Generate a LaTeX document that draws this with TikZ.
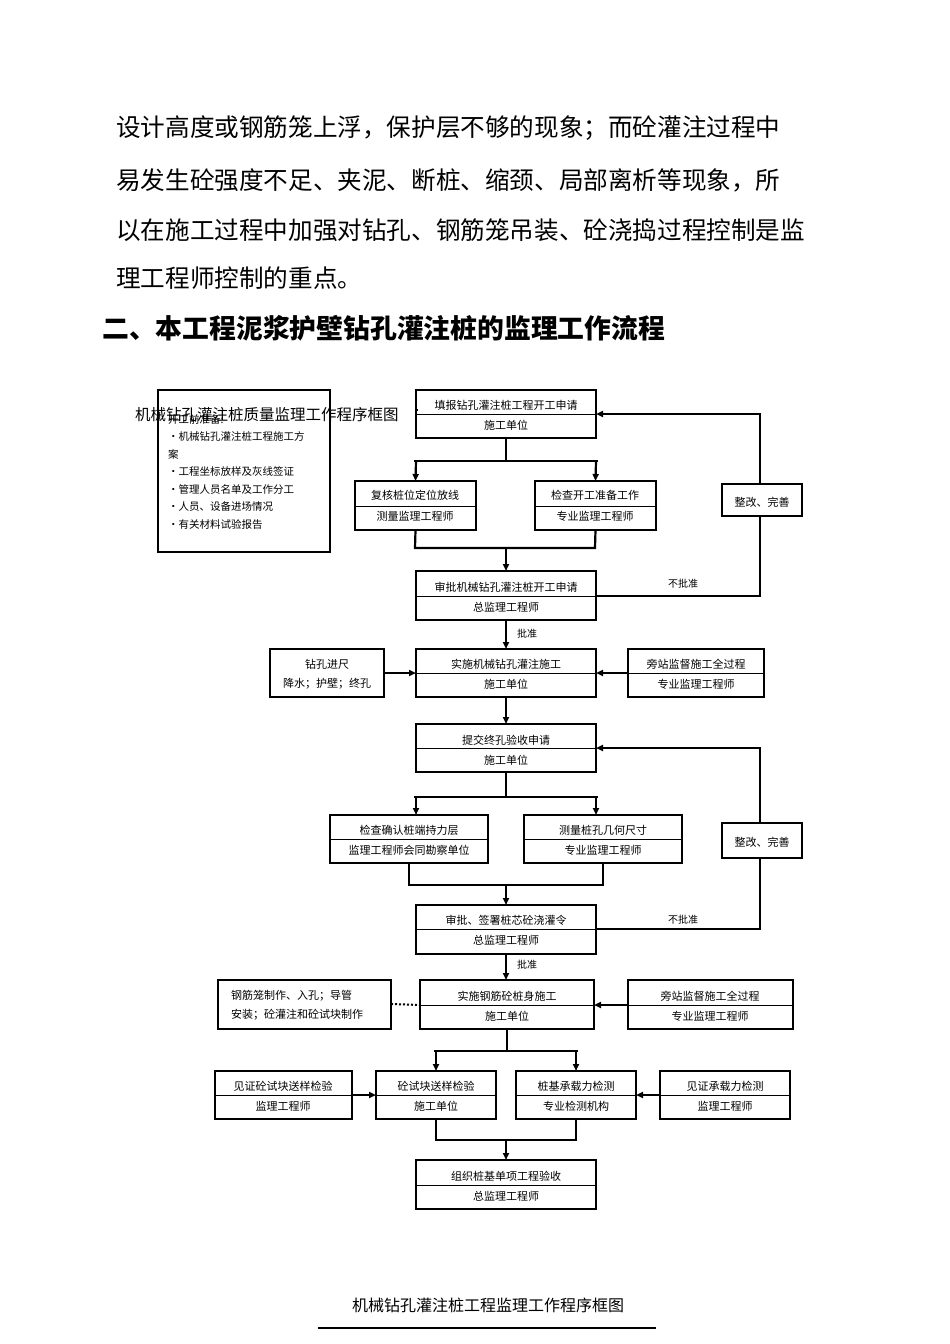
\documentclass[tikz,border=0pt]{standalone}
\usepackage{fontspec}
\setmainfont{Noto Sans CJK SC}
\usetikzlibrary{arrows.meta}
\begin{document}
\begin{tikzpicture}[x=1pt,y=-1pt,
  bx/.style={draw,line width=1.2pt},
  ln/.style={line width=2.2pt},
  ar/.style={line width=2.2pt,-{Triangle[length=7pt,width=6pt]}},
  t/.style={font=\fontsize{11}{12}\selectfont,inner sep=0pt},
  lb/.style={font=\fontsize{10}{12}\selectfont,inner sep=0pt}]
\useasboundingbox (0,0) rectangle (950,1344);
\newcommand{\tbox}[7]{%
  \draw[bx] (#2,#3) rectangle (#4,#5);
  \draw[line width=0.8pt] (#2,#6) -- (#4,#6);
  \coordinate (#1n) at ({(#2+#4)/2},#3);
  \coordinate (#1s) at ({(#2+#4)/2},#5);
  \coordinate (#1w) at (#2,#6);
  \coordinate (#1e) at (#4,#6);
  #7}
\foreach \yy/\s in {128/设计高度或钢筋笼上浮，保护层不够的现象；而砼灌注过程中,180/易发生砼强度不足、夹泥、断桩、缩颈、局部离析等现象，所,230/以在施工过程中加强对钻孔、钢筋笼吊装、砼浇捣过程控制是监,278/理工程师控制的重点。}
  \node[anchor=west,inner sep=0pt,font=\fontsize{24.6}{28}\selectfont] (p\yy) at (116,\yy) {\s};
\node[anchor=west,inner sep=0pt,font=\fontsize{26.8}{30}\selectfont\bfseries] (hd) at (102,328) {二、本工程泥浆护壁钻孔灌注桩的监理工作流程};
\draw[bx] (158,390) rectangle (330,552);
\node[anchor=north west,inner sep=0pt,font=\fontsize{10.5}{17.5}\selectfont,text width=155pt,align=left] (lst) at (168,414) {开工前准备:\\·机械钻孔灌注桩工程施工方\\案\\·工程坐标放样及灰线签证\\·管理人员名单及工作分工\\·人员、设备进场情况\\·有关材料试验报告};
\node[anchor=west,inner sep=0pt,font=\fontsize{15.5}{17}\selectfont] (ttl) at (135,415) {机械钻孔灌注桩质量监理工作程序框图};
\draw[line width=1.5pt,dotted] (416,410) -- (418,410);
\tbox{A}{416}{390}{596}{438}{414}{\node[t] at (506,405){填报钻孔灌注桩工程开工申请};\node[t] at (506,425){施工单位};}
\tbox{B}{355}{481}{476}{530}{506}{\node[t] at (415,495){复核桩位定位放线};\node[t] at (415,516){测量监理工程师};}
\tbox{Bb}{535}{481}{656}{530}{506}{\node[t] at (595,495){检查开工准备工作};\node[t] at (595,516){专业监理工程师};}
\draw[bx] (722,484) rectangle (802,516); \node[t] (fx1) at (762,502){整改、完善};
\tbox{C}{416}{571}{596}{620}{596}{\node[t] at (506,587){审批机械钻孔灌注桩开工申请};\node[t] at (506,607){总监理工程师};}
\tbox{D}{416}{649}{596}{697}{673}{\node[t] at (506,664){实施机械钻孔灌注施工};\node[t] at (506,684){施工单位};}
\draw[bx] (270,649) rectangle (384,697);
\node[t] (dl1) at (327,664){钻孔进尺};\node[t] (dl2) at (327,684){降水；护壁；终孔};
\tbox{Dr}{628}{649}{764}{697}{673}{\node[t] at (696,664){旁站监督施工全过程};\node[t] at (696,684){专业监理工程师};}
\tbox{E}{416}{724}{596}{772}{748}{\node[t] at (506,740){提交终孔验收申请};\node[t] at (506,760){施工单位};}
\tbox{F}{330}{815}{488}{863}{839}{\node[t] at (409,830){检查确认桩端持力层};\node[t] at (409,850){监理工程师会同勘察单位};}
\tbox{Fb}{524}{815}{682}{863}{839}{\node[t] at (603,830){测量桩孔几何尺寸};\node[t] at (603,850){专业监理工程师};}
\draw[bx] (722,823) rectangle (802,858); \node[t] (fx2) at (762,842){整改、完善};
\tbox{G}{416}{905}{596}{954}{929}{\node[t] at (506,920){审批、签署桩芯砼浇灌令};\node[t] at (506,940){总监理工程师};}
\tbox{H}{420}{980}{594}{1029}{1005}{\node[t] at (507,996){实施钢筋砼桩身施工};\node[t] at (507,1016){施工单位};}
\draw[bx] (218,980) rectangle (391,1029);
\node[t,align=left,anchor=west,font=\fontsize{11}{19}\selectfont] (hl) at (231,1005){钢筋笼制作、入孔；导管\\安装；砼灌注和砼试块制作};
\tbox{Hr}{628}{980}{793}{1029}{1005}{\node[t] at (710,996){旁站监督施工全过程};\node[t] at (710,1016){专业监理工程师};}
\tbox{I}{215}{1071}{352}{1119}{1095}{\node[t] at (283,1086){见证砼试块送样检验};\node[t] at (283,1106){监理工程师};}
\tbox{Ib}{376}{1071}{496}{1119}{1095}{\node[t] at (436,1086){砼试块送样检验};\node[t] at (436,1106){施工单位};}
\tbox{Ic}{516}{1071}{636}{1119}{1095}{\node[t] at (576,1086){桩基承载力检测};\node[t] at (576,1106){专业检测机构};}
\tbox{Id}{660}{1071}{790}{1119}{1095}{\node[t] at (725,1086){见证承载力检测};\node[t] at (725,1106){监理工程师};}
\tbox{J}{416}{1160}{596}{1209}{1185}{\node[t] at (506,1176){组织桩基单项工程验收};\node[t] at (506,1196){总监理工程师};}
\draw[ln] (As) -- (506,461);
\draw[ar] (416,461) -- (Bn); \draw[ar] (596,461) -- (Bbn); \draw[ln] (414,461)--(598,461);
\draw[ln] (Bs) -- (415,548) -- (595,548) -- (Bbs);
\draw[ar] (506,548) -- (Cn);
\draw[ln] (Ce) -- (760,596) -- (760,516);
\draw[ar] (760,484) -- (760,414) -- (Ae);
\node[lb] (nb1) at (683,584){不批准};
\draw[ar] (Cs) -- (Dn); \node[lb] (pz1) at (527,634){批准};
\draw[ar] (384,673) -- (Dw);
\draw[ar] (Drw) -- (De);
\draw[ar] (Ds) -- (En);
\draw[ln] (Es) -- (506,797);
\draw[ln] (414,797)--(598,797);
\draw[ar] (416,797) -- (416,815); \draw[ar] (596,797) -- (596,815);
\draw[ln] (Fs) -- (409,885) -- (603,885) -- (Fbs);
\draw[ar] (506,885) -- (Gn);
\draw[ln] (Ge) -- (760,929) -- (760,858);
\draw[ar] (760,823) -- (760,748) -- (Ee);
\node[lb] (nb2) at (683,920){不批准};
\draw[ar] (Gs) -- (506,980); \node[lb] (pz2) at (527,965){批准};
\draw[line width=2pt,dotted] (391,1004) -- (Hw);
\draw[ar] (Hrw) -- (He);
\draw[ln] (Hs) -- (507,1051);
\draw[ln] (434,1051)--(578,1051);
\draw[ar] (436,1051) -- (Ibn); \draw[ar] (576,1051) -- (Icn);
\draw[ar] (Ie) -- (Ibw);
\draw[ar] (Idw) -- (Ice);
\draw[ln] (Ibs) -- (436,1140) -- (576,1140) -- (Ics);
\draw[ar] (506,1140) -- (Jn);
\node[inner sep=0pt,font=\fontsize{16}{18}\selectfont] (cap) at (488,1305){机械钻孔灌注桩工程监理工作程序框图};
\draw[line width=2.5pt] (318,1328) -- (656,1328);
\end{tikzpicture}
\end{document}
